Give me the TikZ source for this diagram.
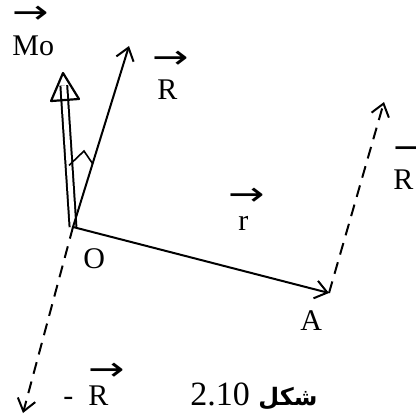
\documentclass[tikz,border=0pt]{standalone}
\usepackage{fontspec}
\usepackage{graphicx}
\setmainfont{Liberation Serif}
\newfontfamily\arabicfont[Script=Arabic]{DejaVu Sans}
\newfontfamily\arrowfont{DejaVu Sans}
\TeXXeTstate=1
\usetikzlibrary{arrows.meta, positioning, calc}

% vector label: arrow set above the letters
\newcommand{\vlab}[2][0pt]{\begin{tabular}[b]{@{}l@{}}\scalebox{1.45}[1.1]{\arrowfont →}\\[#1]#2\end{tabular}}

\begin{document}
\begin{tikzpicture}[
  x=0.5pt, y=-0.5pt,
  vec/.style={line width=1pt, -{Straight Barb[length=6pt, width=9pt]}},
  dvec/.style={vec, dash pattern=on 6pt off 4pt},
  lab/.style={inner sep=0pt, anchor=base west, font=\fontsize{15}{18}\selectfont}
]
\useasboundingbox (0,0) rectangle (416,418);

\coordinate (O) at (73,227);
\coordinate (Mtip) at (63,73);
\coordinate (Mbase) at (65,100);
\coordinate (Rtip) at (129,46);
\coordinate (A) at (329,293);
\coordinate (RAtip) at (384,102);
\coordinate (mRtip) at (23,413);

% moment vector
\draw[line width=1pt, double, double distance=2.4pt] (O) -- ($(O)!0.92!(Mtip)$);
\draw[line width=1.1pt, line join=round]
  ($(Mbase)!7pt!90:(Mtip)$) -- (Mtip) -- ($(Mbase)!7pt!-90:(Mtip)$) -- cycle;

\draw[vec] (O) -- (Rtip);
\draw[vec] (O) -- (A);
\draw[dvec] (A) -- (RAtip);
\draw[dvec] (O) -- (mRtip);

% angle mark
\draw[line width=0.8pt] ($(O)!0.4!(Mtip)$) -- (84,151) -- ($(O)!0.35!(Rtip)$);

\node[lab] (Mo) at (12,55) {\vlab[-2pt]{Mo}};
\node[lab] (R) at (152,99) {\vlab[-2.5pt]{\,R}};
\node[lab] (r) at (228,230) {\vlab[-5.5pt]{\,\,r}};
\node[lab] (RA) at (393,189) {\vlab[-2.5pt]{R}};
\node[lab] (Olab) at (83,268) {O};
\node[lab] (Alab) at (300,330) {A};
\node[lab] (mR) at (63,405) {-\enspace\vlab[-5.5pt]{R}};
\node[lab] (cap) at (190,405) {\fontsize{17}{20}\selectfont 2.10 {\fontsize{12}{14}\arabicfont\bfseries\beginR شكل\endR}};

\end{tikzpicture}
\end{document}
